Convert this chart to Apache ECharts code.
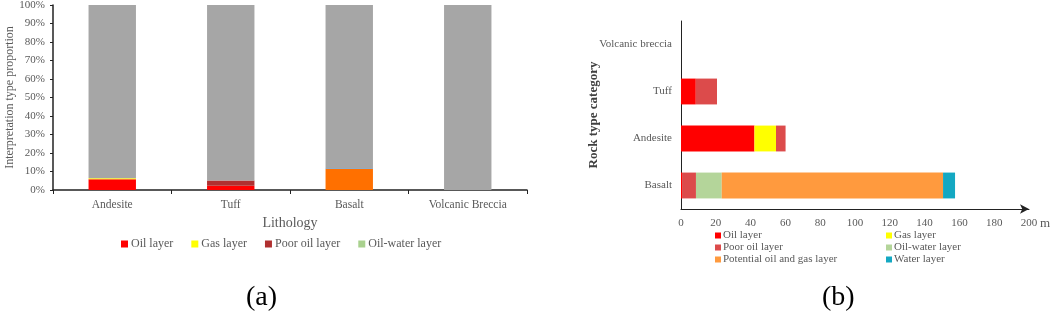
<!DOCTYPE html>
<html>
<head>
<meta charset="utf-8">
<script src="https://cdn.jsdelivr.net/npm/echarts@6/dist/echarts.min.js"></script>
<style>
  html, body { margin: 0; padding: 0; background: #fff; }
  #wrap { position: relative; width: 1052px; height: 314px; }
  #chartA { position: absolute; left: 0; top: 0; width: 540px; height: 314px; }
  #chartB { position: absolute; left: 540px; top: 0; width: 512px; height: 314px; }
</style>
</head>
<body>
<div id="wrap">
  <div id="chartA"></div>
  <div id="chartB"></div>
</div>
<script>
// (a) proportions, percent
const lithology = ["Andesite", "Tuff", "Basalt", "Volcanic Breccia"];
const aOil = [5.8, 2.3, 0, 0];
const aGas = [0.5, 0, 0, 0];
const aPoorOil = [0, 2.9, 0, 0];
const aOilWater = [0, 0, 0, 0];
const aPotential = [0, 0, 11.5, 0];
const aWater = [0, 0, 0.4, 0];
const aOther = [93.7, 94.8, 88.1, 100];

// (b) thickness, m
const rockTypes = ["Basalt", "Andesite", "Tuff", "Volcanic breccia"];
const bOil = [0.6, 42.2, 8.5, 0];
const bGas = [0, 12.4, 0, 0];
const bPoorOil = [8.0, 5.5, 12.2, 0];
const bOilWater = [14.8, 0, 0, 0];
const bPotential = [127.2, 0, 0, 0];
const bWater = [6.9, 0, 0, 0];

const FONT = "Liberation Serif";
const GREY = "#595959";

const chartA = echarts.init(document.getElementById("chartA"));
const chartB = echarts.init(document.getElementById("chartB"));

function barA(name, data, color) {
  return {
    name: name, type: "bar", stack: "a", data: data, barWidth: "40%",
    itemStyle: { color: color }, emphasis: { disabled: true }
  };
}
function barB(name, data, color) {
  return {
    name: name, type: "bar", stack: "b", data: data, barWidth: "55%",
    itemStyle: { color: color }, emphasis: { disabled: true }
  };
}

chartA.setOption({
  animation: false,
  textStyle: { fontFamily: FONT },
  title: {
    text: "(a)", left: 241, top: 279,
    textStyle: { fontFamily: FONT, fontSize: 28, fontWeight: "normal", color: "#000" }
  },
  legend: {
    data: ["Oil layer", "Gas layer", "Poor oil layer", "Oil-water layer"],
    left: 116, top: 233, itemWidth: 7, itemHeight: 7, itemGap: 18,
    icon: "rect",
    textStyle: { fontFamily: FONT, fontSize: 12, color: GREY, padding: [0, 0, 0, -2] }
  },
  grid: { left: 53, right: 13, top: 5, bottom: 124, outerBoundsMode: "none" },
  xAxis: {
    type: "category", data: lithology,
    name: "Lithology", nameLocation: "middle", nameGap: 24,
    nameTextStyle: { fontFamily: FONT, fontSize: 14, color: GREY },
    axisLine: { lineStyle: { color: "#222", width: 1.5 } },
    axisTick: { show: true, length: 4, lineStyle: { color: "#222" } },
    axisLabel: { color: GREY, fontSize: 11.5, fontFamily: FONT, margin: 9 }
  },
  yAxis: {
    type: "value", min: 0, max: 100, interval: 10,
    name: "Interpretation type proportion", nameLocation: "middle", nameGap: 37,
    nameMoveOverlap: false,
    nameTextStyle: { fontFamily: FONT, fontSize: 12, color: GREY },
    axisLine: { show: true, lineStyle: { color: "#222", width: 1.5 } },
    axisTick: { show: true, length: 3, lineStyle: { color: "#222" } },
    splitLine: { show: false },
    axisLabel: { formatter: "{value}%", color: GREY, fontSize: 11, fontFamily: FONT, margin: 8 }
  },
  series: [
    barA("Oil layer", aOil, "#ff0000"),
    barA("Gas layer", aGas, "#ffff00"),
    barA("Poor oil layer", aPoorOil, "#b03030"),
    barA("Oil-water layer", aOilWater, "#a9d18e"),
    barA("Potential oil and gas layer", aPotential, "#ff7000"),
    barA("Water layer", aWater, "#6a9bc8"),
    barA("Other", aOther, "#a6a6a6")
  ]
});

const legendText = { fontFamily: FONT, fontSize: 11, lineHeight: 11, color: GREY, padding: [0, 0, 0, -3] };

chartB.setOption({
  animation: false,
  textStyle: { fontFamily: FONT },
  title: {
    text: "(b)", left: 277, top: 279,
    textStyle: { fontFamily: FONT, fontSize: 28, fontWeight: "normal", color: "#000" }
  },
  legend: [
    {
      data: ["Oil layer", "Poor oil layer", "Potential oil and gas layer"],
      orient: "vertical", left: 170, top: 225, itemWidth: 6, itemHeight: 6, itemGap: 1,
      icon: "rect", textStyle: legendText
    },
    {
      data: ["Gas layer", "Oil-water layer", "Water layer"],
      orient: "vertical", left: 341, top: 225, itemWidth: 6, itemHeight: 6, itemGap: 1,
      icon: "rect", textStyle: legendText
    }
  ],
  grid: { left: 141, right: 23, top: 21, bottom: 105, outerBoundsMode: "none" },
  xAxis: {
    type: "value", min: 0, max: 200, interval: 20,
    name: "m", nameLocation: "end", nameGap: 11, nameMoveOverlap: false,
    nameTextStyle: { fontFamily: FONT, fontSize: 13, color: GREY, verticalAlign: "top", padding: [8, 0, 0, 0] },
    axisLine: { show: true, symbol: ["none", "arrow"], symbolSize: [7, 9], lineStyle: { color: "#222", width: 1 } },
    axisTick: { show: false },
    splitLine: { show: false },
    axisLabel: { color: GREY, fontSize: 11, fontFamily: FONT, margin: 9 }
  },
  yAxis: {
    type: "category", data: rockTypes,
    name: "Rock type category", nameLocation: "middle", nameGap: 81, nameMoveOverlap: false,
    nameTextStyle: { fontFamily: FONT, fontSize: 13, fontWeight: "bold", color: "#404040" },
    axisLine: { lineStyle: { color: "#222", width: 1 } },
    axisTick: { show: false },
    axisLabel: { color: GREY, fontSize: 11, fontFamily: FONT, margin: 9 }
  },
  series: [
    barB("Oil layer", bOil, "#ff0000"),
    barB("Gas layer", bGas, "#ffff00"),
    barB("Poor oil layer", bPoorOil, "#dc4b4b"),
    barB("Oil-water layer", bOilWater, "#b4d59a"),
    barB("Potential oil and gas layer", bPotential, "#ff9a3e"),
    barB("Water layer", bWater, "#14a8c2")
  ]
});
</script>
</body>
</html>
